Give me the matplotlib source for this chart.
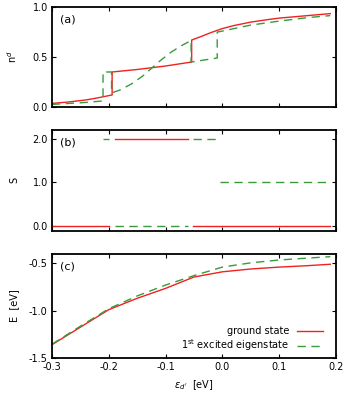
import numpy as np
import matplotlib
matplotlib.use("Agg")
import matplotlib.pyplot as plt

# (a) occupation n^d vs eps_d'
xa_gs = [-0.3, -0.27, -0.24, -0.22, -0.194, -0.194, -0.15, -0.1, -0.054, -0.054,
         -0.04, -0.02, 0.0, 0.02, 0.05, 0.08, 0.1, 0.13, 0.16, 0.19]
na_gs = [0.035, 0.05, 0.07, 0.09, 0.12, 0.35, 0.375, 0.41, 0.45, 0.67,
         0.70, 0.745, 0.785, 0.815, 0.85, 0.875, 0.89, 0.905, 0.92, 0.935]
xa_ex = [-0.3, -0.27, -0.24, -0.21, -0.21, -0.195, -0.195, -0.18, -0.16, -0.14, -0.125,
         -0.11, -0.09, -0.07, -0.055, -0.055, -0.009, -0.009, 0.0, 0.05, 0.1, 0.15, 0.19]
na_ex = [0.025, 0.035, 0.045, 0.06, 0.35, 0.35, 0.14, 0.17, 0.23, 0.31, 0.385,
         0.46, 0.55, 0.62, 0.665, 0.45, 0.49, 0.75, 0.76, 0.82, 0.86, 0.895, 0.915]

# (b) total spin S, one segment per plateau
S_gs = [((-0.3, -0.2), 0.0), ((-0.189, -0.06), 2.0), ((-0.052, 0.19), 0.0)]
S_ex = [((-0.21, -0.2), 2.0), ((-0.189, -0.06), 0.0), ((-0.052, -0.01), 2.0), ((-0.004, 0.19), 1.0)]

# (c) energies
xc = [-0.3, -0.25, -0.2, -0.15, -0.1, -0.05, 0.0, 0.05, 0.1, 0.15, 0.19]
E_gs = [-1.36, -1.175, -0.99, -0.87, -0.765, -0.645, -0.59, -0.56, -0.54, -0.525, -0.51]
E_ex = [-1.355, -1.165, -0.98, -0.845, -0.73, -0.63, -0.54, -0.495, -0.465, -0.445, -0.43]

red = "#ee2222"
green = "#3a9a3a"
dash = (0, (6, 4))

plt.rcParams["font.family"] = "DejaVu Sans"
plt.rcParams["font.size"] = 7

fig = plt.figure(figsize=(3.46, 3.96), dpi=100)
axa = fig.add_axes([0.150, 0.730, 0.821, 0.252])
axb = fig.add_axes([0.150, 0.417, 0.821, 0.255])
axc = fig.add_axes([0.150, 0.096, 0.821, 0.263])

axa.plot(xa_gs, na_gs, color=red, lw=1.0)
axa.plot(xa_ex, na_ex, color=green, lw=1.0, linestyle=dash)
axa.set_ylim(0, 1)
axa.set_yticks([0, 0.5, 1.0])
axa.set_ylabel("n$^d$")

for (x0, x1), s in S_gs:
    axb.plot([x0, x1], [s, s], color=red, lw=1.0)
for (x0, x1), s in S_ex:
    axb.plot([x0, x1], [s, s], color=green, lw=1.0, linestyle=dash)
axb.set_ylim(-0.12, 2.2)
axb.set_yticks([0, 1, 2])
axb.set_ylabel("S")

axc.plot(xc, E_gs, color=red, lw=1.0, label="ground state")
axc.plot(xc, E_ex, color=green, lw=1.0, linestyle=dash, label="1$^{\\mathrm{st}}$ excited eigenstate")
axc.set_ylim(-1.5, -0.4)
axc.set_yticks([-1.5, -1.0, -0.5])
axc.set_ylabel("E  [eV]")
axc.set_xlabel("$\\epsilon_{d'}$  [eV]")
axc.legend(loc="lower right", frameon=False, markerfirst=False, handlelength=2.6,
           fontsize=7, borderaxespad=0.1, labelspacing=0.1, bbox_to_anchor=(0.97, 0.0))

for ax, tag in zip([axa, axb, axc], ["(a)", "(b)", "(c)"]):
    ax.set_xlim(-0.3, 0.2)
    ax.set_xticks([-0.3, -0.2, -0.1, 0.0, 0.1, 0.2])
    ax.yaxis.set_major_formatter(plt.FormatStrFormatter("%.1f"))
    ax.xaxis.set_major_formatter(plt.FormatStrFormatter("%.1f"))
    ax.tick_params(direction="in", top=True, right=True, length=3, width=0.8, pad=3)
    ax.yaxis.set_label_coords(-0.115, 0.5)
    for sp in ax.spines.values():
        sp.set_linewidth(1.3)
    ax.text(0.03, 0.88, tag, transform=ax.transAxes, fontsize=8, va="center")

axa.tick_params(labelbottom=False)
axb.tick_params(labelbottom=False)

fig.savefig("out.png", dpi=100)
